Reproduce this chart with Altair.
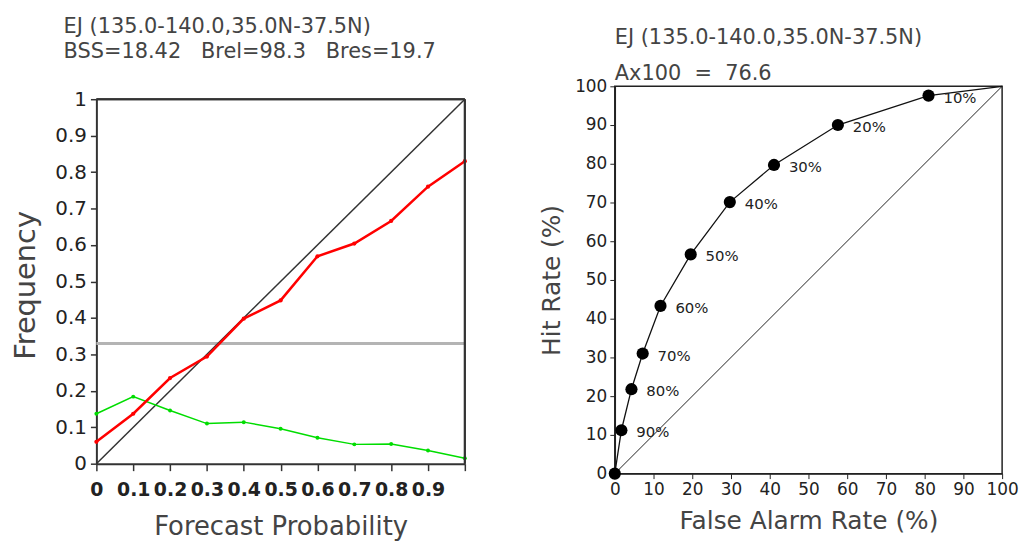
import altair as alt
import pandas as pd

# ---------------- data ----------------
prob = [0.0, 0.1, 0.2, 0.3, 0.4, 0.5, 0.6, 0.7, 0.8, 0.9, 1.0]
obs_freq = [0.060, 0.137, 0.235, 0.294, 0.398, 0.448, 0.569, 0.604, 0.666, 0.760, 0.830]
fcst_freq = [0.137, 0.184, 0.146, 0.110, 0.114, 0.096, 0.071, 0.053, 0.054, 0.036, 0.015]
clim = [0.33]
diag_left = [0.0, 1.0]

far = [0.0, 1.7, 4.3, 7.2, 11.8, 19.6, 29.7, 41.1, 57.6, 81.0, 100.0]
hit = [0.0, 11.2, 21.8, 31.0, 43.3, 56.6, 70.1, 79.7, 90.0, 97.6, 100.0]
thr = ["", "90%", "80%", "70%", "60%", "50%", "40%", "30%", "20%", "10%", ""]
diag_right = [0.0, 100.0]

left_ticks = [0.0, 0.1, 0.2, 0.3, 0.4, 0.5, 0.6, 0.7, 0.8, 0.9, 1.0]
right_ticks = [0, 10, 20, 30, 40, 50, 60, 70, 80, 90, 100]

title_main = "EJ (135.0-140.0,35.0N-37.5N)"
title_left_sub = "BSS=18.42\u00a0\u00a0\u00a0Brel=98.3\u00a0\u00a0\u00a0Bres=19.7"
title_right_sub = "Ax100\u00a0\u00a0=\u00a0\u00a076.6"

FONT = "DejaVu Sans"

# ---------------- left: reliability diagram ----------------
rel_df = pd.DataFrame({"p": prob, "obs": obs_freq, "fc": fcst_freq})
diag_l_df = pd.DataFrame({"p": diag_left, "f": diag_left})
clim_df = pd.DataFrame({"f": clim})

LEFT_H = 380      # full group height (shared top with right panel)
LEFT_TOP = 13     # left frame starts lower than the right one

lx_axis = alt.Axis(
    values=left_ticks,
    labelExpr="datum.value >= 0.95 ? '' : (datum.value == 0 ? '0' : format(datum.value, '.1f'))",
    title="Forecast Probability", labelFont=FONT, labelFontSize=19, labelFontWeight="bold",
    labelColor="#222", labelOverlap=False, labelFlush=False, labelPadding=10,
    tickSize=7, tickColor="#333", tickWidth=1.5, domainColor="#333", domainWidth=2,
    grid=False, titleFont=FONT, titleFontSize=26, titleFontWeight="normal",
    titleColor="#444", titlePadding=14)
ly_axis = alt.Axis(
    values=left_ticks,
    labelExpr="datum.value == 0 ? '0' : (datum.value >= 0.99 ? '1' : format(datum.value, '.1f'))",
    title="Frequency", labelFont=FONT, labelFontSize=20, labelColor="#222",
    labelOverlap=False, labelFlush=False, labelPadding=4,
    tickSize=6, tickColor="#333", tickWidth=1.5, domainColor="#333", domainWidth=2,
    grid=False, titleFont=FONT, titleFontSize=29, titleFontWeight="normal",
    titleColor="#444", titlePadding=15, titleY=200)
lxscale = alt.Scale(domain=[0, 1], nice=False, zero=False)
lyscale = alt.Scale(domain=[0, 1], nice=False, zero=False, range=[LEFT_H, LEFT_TOP])


def lx(field="p"):
    return alt.X(f"{field}:Q", scale=lxscale, axis=lx_axis)


def ly(field):
    return alt.Y(f"{field}:Q", scale=lyscale, axis=ly_axis)


frame_top = alt.Chart(diag_l_df).mark_rule(color="#333", strokeWidth=2).encode(
    x=alt.datum(0, scale=lxscale, axis=lx_axis), x2=alt.datum(1),
    y=alt.datum(1, scale=lyscale, axis=ly_axis))
frame_right = alt.Chart(diag_l_df).mark_rule(color="#333", strokeWidth=2).encode(
    x=alt.datum(1, scale=lxscale, axis=lx_axis),
    y=alt.datum(0, scale=lyscale, axis=ly_axis), y2=alt.datum(1))
diag_l = alt.Chart(diag_l_df).mark_line(color="#333", strokeWidth=1.5).encode(x=lx(), y=ly("f"))
clim_rule = alt.Chart(clim_df).mark_rule(color="#b4b4b4", strokeWidth=3).encode(
    x=alt.datum(0, scale=lxscale, axis=lx_axis), x2=alt.datum(1), y=ly("f"))
red = alt.Chart(rel_df).mark_line(
    color="#ff0000", strokeWidth=2.5,
    point=alt.OverlayMarkDef(color="#ff0000", size=18, filled=True)
).encode(x=lx(), y=ly("obs"))
green = alt.Chart(rel_df).mark_line(
    color="#00dd00", strokeWidth=1.5,
    point=alt.OverlayMarkDef(color="#00dd00", size=16, filled=True)
).encode(x=lx(), y=ly("fc"))

left = alt.layer(clim_rule, diag_l, green, red, frame_top, frame_right).properties(
    width=371, height=LEFT_H,
    view=alt.ViewBackground(stroke="transparent", strokeWidth=0),
    title=alt.TitleParams(
        text=title_main, subtitle=title_left_sub, anchor="start", frame="group", dx=-33,
        font=FONT, fontSize=21, fontWeight="normal", color="#444",
        subtitleFont=FONT, subtitleFontSize=21, subtitleColor="#444",
        subtitlePadding=5, offset=24),
)

# ---------------- right: ROC ----------------
roc_df = pd.DataFrame({"far": far, "hit": hit, "thr": thr, "i": list(range(len(far)))})
pts_df = roc_df.iloc[:-1]
diag_r_df = pd.DataFrame({"far": diag_right, "hit": diag_right})

rscale = alt.Scale(domain=[0, 100], nice=False, zero=False)
rx_axis = alt.Axis(
    values=right_ticks, title="False Alarm Rate (%)", labelFont=FONT, labelFontSize=17,
    labelColor="#222", labelOverlap=False, labelFlush=False, labelPadding=3,
    tickSize=5, tickColor="#222", tickWidth=1, domainColor="#222", domainWidth=1.5,
    grid=False, titleFont=FONT, titleFontSize=25, titleFontWeight="normal",
    titleColor="#444", titlePadding=11)
ry_axis = alt.Axis(
    values=right_ticks, title="Hit Rate (%)", labelFont=FONT, labelFontSize=17,
    labelColor="#222", labelOverlap=False, labelFlush=False, labelPadding=3,
    tickSize=5, tickColor="#222", tickWidth=1, domainColor="#222", domainWidth=1.5,
    grid=False, titleFont=FONT, titleFontSize=25, titleFontWeight="normal",
    titleColor="#444", titlePadding=10)


def rx():
    return alt.X("far:Q", scale=rscale, axis=rx_axis)


def ry():
    return alt.Y("hit:Q", scale=rscale, axis=ry_axis)


diag_r = alt.Chart(diag_r_df).mark_line(color="#222", strokeWidth=1).encode(x=rx(), y=ry())
roc_line = alt.Chart(roc_df).mark_line(color="#111", strokeWidth=1.3).encode(
    x=rx(), y=ry(), order="i:Q")
roc_pts = alt.Chart(pts_df).mark_circle(color="#000", size=150, opacity=1).encode(x=rx(), y=ry())
roc_txt = alt.Chart(pts_df).mark_text(
    align="left", baseline="middle", dx=15, dy=2, font=FONT, fontSize=15, color="#222"
).encode(x=rx(), y=ry(), text="thr:N")

right = alt.layer(diag_r, roc_line, roc_pts, roc_txt).properties(
    width=390, height=390,
    view=alt.ViewBackground(stroke="#222", strokeWidth=1.5),
    title=alt.TitleParams(
        text=title_main, subtitle=title_right_sub, anchor="start",
        frame="group", font=FONT, fontSize=21, fontWeight="normal", color="#444",
        subtitleFont=FONT, subtitleFontSize=21, subtitleColor="#444",
        subtitlePadding=16, offset=-7),
)

chart = alt.hconcat(left, right, spacing=69).properties(
    padding={"left": 3, "top": 6, "right": 0, "bottom": 0},
    background="white",
)

chart.save("out.html", embed_options={"renderer": "svg", "actions": False})
